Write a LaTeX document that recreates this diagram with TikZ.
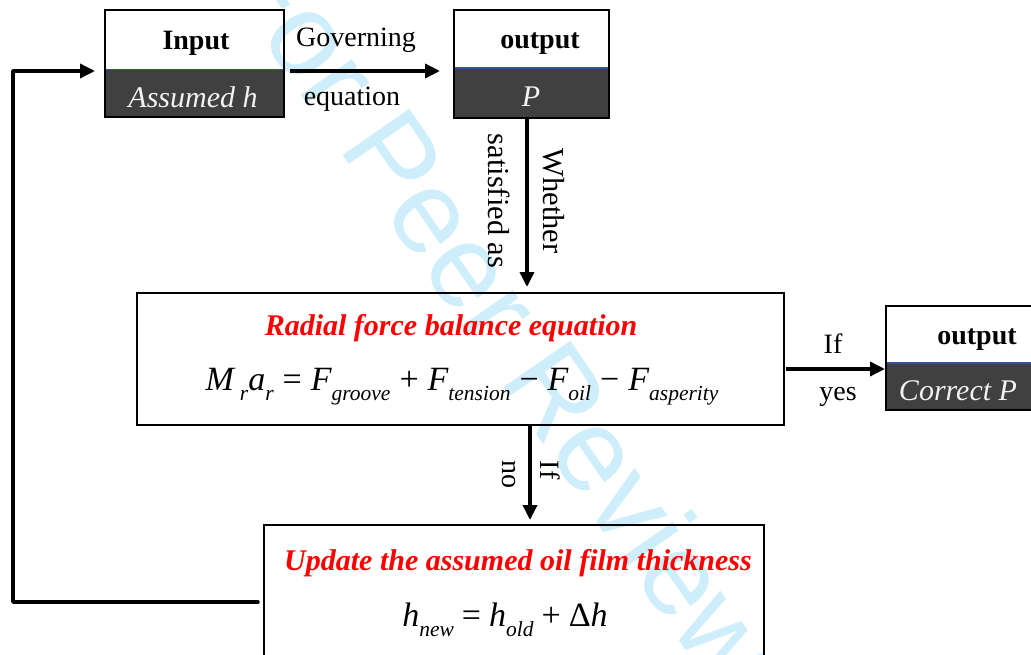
\documentclass[tikz,border=0pt]{standalone}
\usepackage{fontspec}
\setmainfont{Liberation Serif}
\newfontfamily\wmfont{Liberation Sans}
\usetikzlibrary{arrows.meta,positioning}
\definecolor{darkfill}{RGB}{64,64,64}
\definecolor{sepblue}{RGB}{47,85,151}
\definecolor{wmblue}{RGB}{206,238,251}
\definecolor{lighttext}{RGB}{242,242,242}
\newcommand{\sbs}[1]{\raisebox{-0.30em}{\fontsize{21.5}{21.5}\selectfont\itshape #1}}
\newcommand{\opr}[2][7pt]{\hspace{#1}\textup{#2}\hspace{#1}}
\begin{document}
\begin{tikzpicture}[x=1pt,y=-1pt,
  every node/.style={inner sep=0pt, outer sep=0pt},
  tophalf/.style={},
  bothalf/.style={fill=darkfill},
  bigbox/.style={draw=black, line width=2.5pt},
  boxborder/.style={draw=black, line width=2.5pt},
  sepline/.style={draw=sepblue, line width=1.5pt},
  arr/.style={line width=3.5pt, -{Triangle[length=15pt,width=14pt]}},
  looparr/.style={line width=3.5pt, line join=round, line cap=round, -{Triangle[length=15pt,width=14pt]}},
  lab/.style={font=\fontsize{28}{32}\selectfont},
  vlab/.style={font=\fontsize{30.5}{34}\selectfont, rotate=-90},
  headtxt/.style={font=\fontsize{28}{32}\selectfont\bfseries},
  darktxt/.style={text=lighttext, font=\fontsize{30}{34}\selectfont\itshape},
  redtitle/.style={text=red, font=\fontsize{30}{34}\selectfont\bfseries\itshape},
  eqtxt/.style={font=\fontsize{34}{36}\selectfont\itshape},
  watermark/.style={text=wmblue, font=\fontsize{118}{120}\selectfont\wmfont}]
\useasboundingbox (0,0) rectangle (1031,654);
\clip (0,0) rectangle (1031,654);
\fill[white] (0,0) rectangle (1031,654);

% watermark
\node[watermark, rotate=-55.3] (wm) at (503,312) {For Peer Review};

% Input box
\node[tophalf, minimum width=179pt, minimum height=59.5pt] (inT) at (194.5,39.75) {};
\node[bothalf, minimum width=179pt, minimum height=47.5pt, below=0pt of inT] (inB) {};
\draw[sepline] (inB.north west) -- (inB.north east);
\draw[boxborder] (inT.north west) rectangle (inB.south east);
\node[headtxt, anchor=base] (inTt) at (196,49) {Input};
\node[darktxt, anchor=base] (inBt) at (193,107) {Assumed h};

% output P box
\node[tophalf, minimum width=155pt, minimum height=58pt] (outT) at (531.5,39) {};
\node[bothalf, minimum width=155pt, minimum height=50pt, below=0pt of outT] (outB) {};
\draw[sepline] (outB.north west) -- (outB.north east);
\draw[boxborder] (outT.north west) rectangle (outB.south east);
\node[headtxt, anchor=base] (outTt) at (540,48) {output};
\node[darktxt, anchor=base] (outBt) at (531,106) {P};

% Radial box
\node[bigbox, minimum width=647pt, minimum height=132pt] (rad) at (460.5,359) {};
\node[redtitle, anchor=base] (radt) at (451,335) {Radial force balance equation};
\node[eqtxt, anchor=base] (rade) at (462,390) {M\hspace{6pt}\sbs{r}a\sbs{r}\opr[9pt]{=}F\sbs{groove}\opr[9pt]{+}F\sbs{tension}\opr[9pt]{\textminus}F\sbs{oil}\opr[9pt]{\textminus}F\sbs{asperity}};

% Correct P box
\node[tophalf, minimum width=178pt, minimum height=57pt] (corT) at (975,334.5) {};
\node[bothalf, minimum width=178pt, minimum height=47pt, below=0pt of corT] (corB) {};
\draw[sepline] (corB.north west) -- (corB.north east);
\draw[boxborder] (corT.north west) rectangle (corB.south east);
\node[headtxt, anchor=base] (corTt) at (977,344) {output};
\node[darktxt, anchor=base] (corBt) at (958,400) {Correct P};

% Update box
\node[bigbox, minimum width=500pt, minimum height=160pt] (upd) at (514,605) {};
\node[redtitle, anchor=base] (updt) at (518,570) {Update the assumed oil film thickness};
\node[eqtxt, anchor=base] (upde) at (505,626) {h\sbs{new}\opr[8pt]{=}h\sbs{old}\opr[8pt]{+}\textup{Δ}h};

% connectors
\draw[arr, shorten <=6pt, shorten >=14pt] ([yshift=-1.5pt]inB.north east) -- ([yshift=-1.5pt]inB.north east -| outB.west);
\node[lab, anchor=base] (gov) at (356,46) {Governing};
\node[lab, anchor=base] (equ) at (352,105) {equation};

\draw[arr, shorten >=6pt] ([xshift=-4.5pt]outB.south) -- ([xshift=-4.5pt]outB.south |- rad.north);
\node[vlab] (whe) at (554,201) {Whether};
\node[vlab] (sat) at (499,201) {satisfied as};

\draw[arr, shorten <=2pt, shorten >=1pt] ([yshift=-10pt]rad.east) -- ([yshift=-10pt]rad.east -| corB.west);
\node[lab, anchor=base] (ify) at (833,353) {If};
\node[lab, anchor=base] (yes) at (838,400) {yes};

\draw[arr, shorten >=5pt] ([xshift=69.5pt]rad.south) -- ([xshift=69.5pt]rad.south |- upd.north);
\node[lab, rotate=-90] (ifn) at (550,470) {If};
\node[lab, rotate=-90] (non) at (509,474) {no};

\coordinate (lc) at (13,602);
\draw[looparr, shorten <=6pt, shorten >=10pt] ([yshift=3pt]upd.west) -- (lc) |- ([yshift=-1.5pt]inB.north west);
\end{tikzpicture}
\end{document}
